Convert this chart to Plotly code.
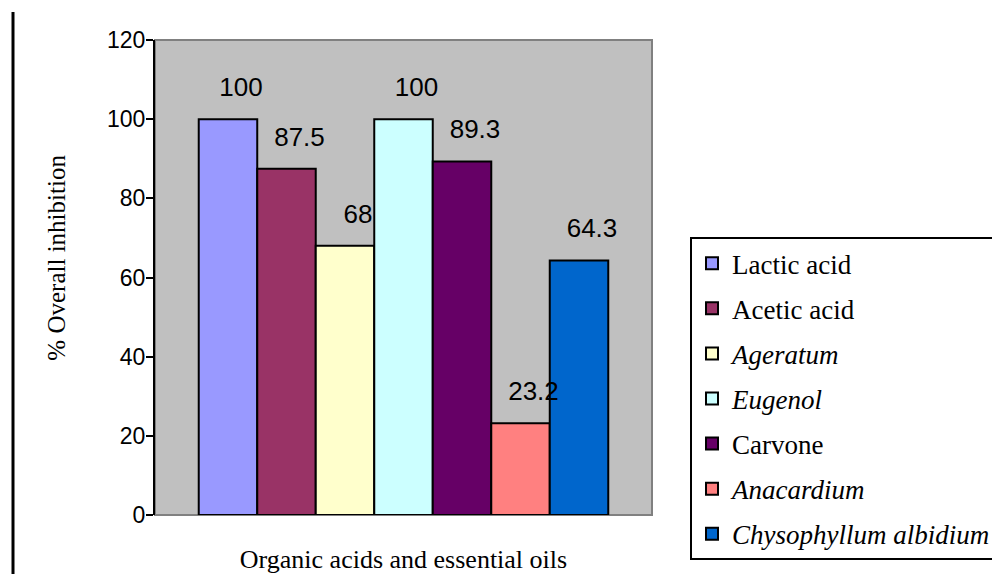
import plotly.graph_objects as go

category = ["Organic acids and essential oils"]
series_names = ["Lactic acid", "Acetic acid", "<i>Ageratum</i>", "<i>Eugenol</i>",
                "Carvone", "<i>Anacardium</i>", "<i>Chysophyllum albidium</i>"]
values = [100, 87.5, 68, 100, 89.3, 23.2, 64.3]
value_labels = ["100", "87.5", "68", "100", "89.3", "23.2", "64.3"]
colors = ["#9999FF", "#993366", "#FFFFCC", "#CCFFFF", "#660066", "#FF8080", "#0066CC"]
y_ticks = [0, 20, 40, 60, 80, 100, 120]

fig = go.Figure()
for i, (name, v, c) in enumerate(zip(series_names, values, colors)):
    fig.add_trace(go.Bar(
        x=category, y=[v], name=name, legendgroup=str(i),
        offsetgroup=str(i),
        marker=dict(color=c, line=dict(color="black", width=2)),
        hoverinfo="skip",
    ))
for i, (lab, v) in enumerate(zip(value_labels, values)):
    fig.add_trace(go.Scatter(
        x=category, y=[v], mode="markers+text",
        text=["\u2003" + lab],  # leading em space nudges the label right, as in the original
        textposition="top center", offsetgroup=str(i),
        marker=dict(size=25, opacity=0),
        textfont=dict(family="Liberation Sans, Arial", size=26, color="black"),
        showlegend=False, hoverinfo="skip", cliponaxis=False,
    ))

fig.update_layout(
    width=1000, height=574,
    margin=dict(l=147, r=356, t=32, b=67, autoexpand=False),
    paper_bgcolor="white", plot_bgcolor="#C0C0C0",
    barmode="group", bargap=0.176, bargroupgap=0,
    scattermode="group",
    showlegend=True,
    legend=dict(
        x=1.0765, y=0.585, xanchor="left", yanchor="top",
        bgcolor="white", bordercolor="black", borderwidth=2,
        font=dict(family="Liberation Serif, Times New Roman", size=27, color="black"),
        traceorder="grouped", tracegroupgap=7,
    ),
    xaxis=dict(
        showticklabels=False, ticks="", showgrid=False, zeroline=False,
        showline=False,
        title=dict(text="Organic acids and essential oils", standoff=34,
                   font=dict(family="Liberation Serif, Times New Roman", size=26, color="black")),
    ),
    yaxis=dict(
        range=[0, 120], tickvals=y_ticks, ticks="outside", ticklen=7,
        tickwidth=2, tickcolor="black", showgrid=False, zeroline=False,
        showline=True, linecolor="black", linewidth=2, ticklabelstandoff=-4,
        tickfont=dict(family="Liberation Sans, Arial", size=23, color="black"),
    ),
    annotations=[
        dict(text="% Overall inhibition", textangle=-90, showarrow=False,
             xref="paper", yref="paper", x=-0.2, y=0.541,
             xanchor="center", yanchor="middle",
             font=dict(family="Liberation Serif, Times New Roman", size=25, color="black")),
    ],
    shapes=[
        dict(type="rect", xref="paper", yref="paper", x0=0, x1=1, y0=0, y1=1,
             line=dict(color="#808080", width=2), layer="below"),
        dict(type="line", xref="paper", yref="paper", x0=-0.2857, x1=-0.2857,
             y0=-0.15, y1=1.0589, line=dict(color="black", width=3)),
    ],
)

fig.write_html("out.html")
